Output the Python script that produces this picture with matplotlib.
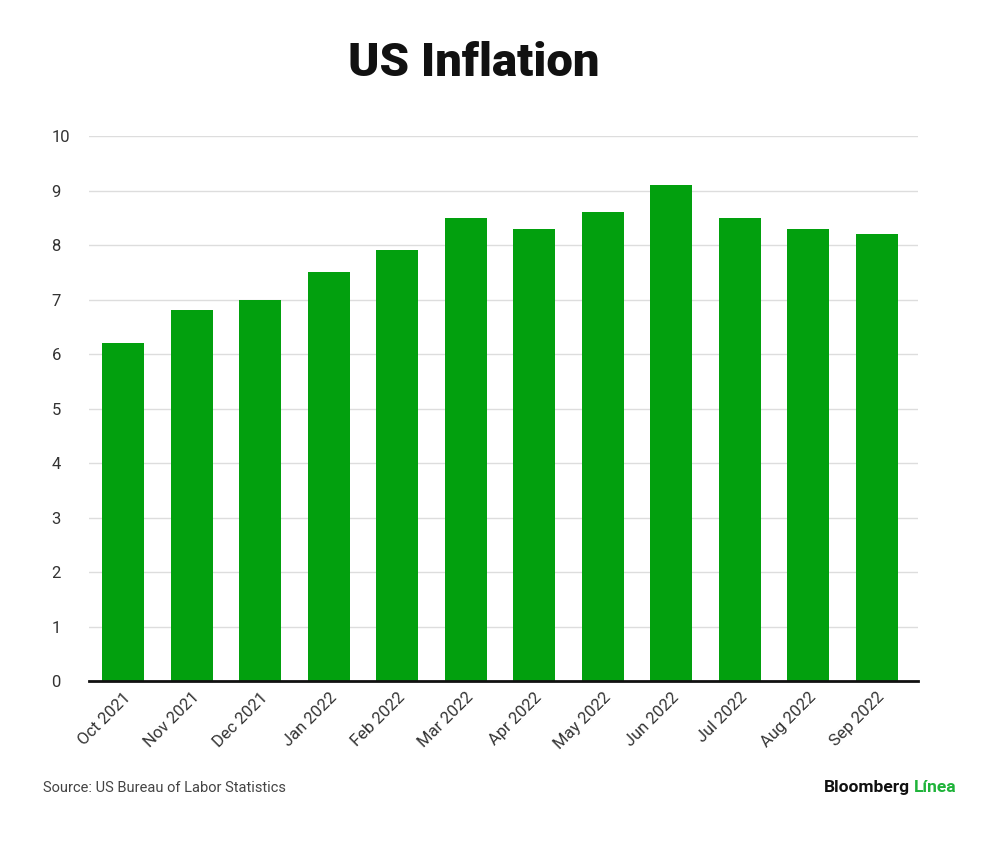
import matplotlib.pyplot as plt
import numpy as np

months = ["Oct 2021", "Nov 2021", "Dec 2021", "Jan 2022", "Feb 2022", "Mar 2022",
          "Apr 2022", "May 2022", "Jun 2022", "Jul 2022", "Aug 2022", "Sep 2022"]
inflation = [6.2, 6.8, 7.0, 7.5, 7.9, 8.5, 8.3, 8.6, 9.1, 8.5, 8.3, 8.2]
yticks = list(range(0, 11))

plt.rcParams['font.family'] = ['Roboto', 'DejaVu Sans']

fig = plt.figure(figsize=(10, 8.58), dpi=100)
ax = fig.add_axes([0.089, 0.206, 0.829, 0.6355])

x = np.arange(len(months))
ax.bar(x, inflation, width=0.61, color='#02a00e', zorder=3)

ax.set_xlim(-0.5, len(months) - 0.4)
ax.set_ylim(0, 10)
ax.set_yticks(yticks)
ax.set_yticklabels([str(v) for v in yticks], fontsize=12, color='#333333', ha='left')
ax.tick_params(axis='y', length=0, pad=27)
ax.grid(axis='y', color='#dddddd', linewidth=1, zorder=0)

ax.set_xticks(x)
ax.set_xticklabels(months, rotation=45, ha='right', rotation_mode='anchor',
                   fontsize=12, color='#333333')
ax.tick_params(axis='x', length=0, pad=6)

for s in ['top', 'right', 'left']:
    ax.spines[s].set_visible(False)
ax.spines['bottom'].set_linewidth(2)
ax.spines['bottom'].set_color('#111111')
ax.spines['bottom'].set_zorder(4)

fig.text(0.474, 0.927, "US Inflation", ha='center', va='center',
         fontsize=34, fontweight='heavy', color='#111111')
fig.text(0.043, 0.082, "Source: US Bureau of Labor Statistics", ha='left', va='center',
         fontsize=10.5, color='#444444')
fig.text(0.91, 0.082, "Bloomberg", ha='right', va='center',
         fontsize=12.5, fontweight='bold', color='#111111')
fig.text(0.914, 0.082, "Línea", ha='left', va='center',
         fontsize=12.5, fontweight='bold', color='#1fb33a')

fig.savefig("out.png", dpi=100)
